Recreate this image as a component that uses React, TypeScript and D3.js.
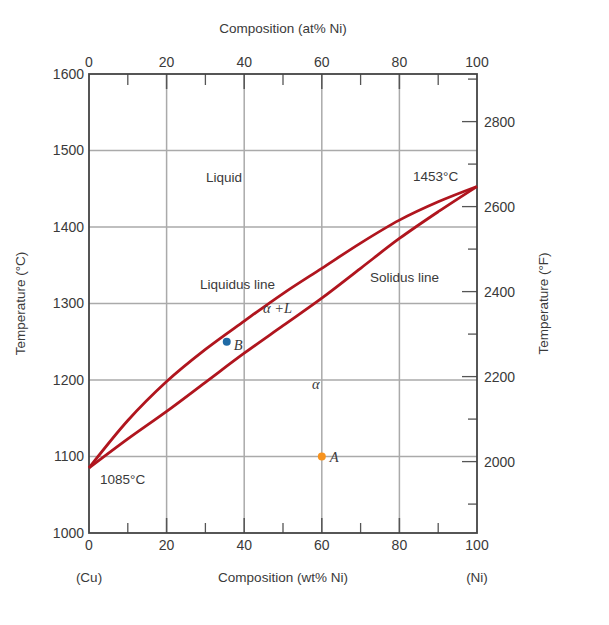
import React from "react";
import * as d3 from "d3";

const compositionPct = [0, 10, 20, 30, 40, 50, 60, 70, 80, 90, 100];
const liquidusC = [1085, 1147, 1198, 1240, 1277, 1313, 1346, 1379, 1409, 1433, 1453];
const solidusC = [1085, 1123, 1159, 1197, 1235, 1271, 1307, 1346, 1385, 1420, 1453];
const xMajorTicks = [0, 20, 40, 60, 80, 100];
const xMinorTicks = [10, 30, 50, 70, 90];
const yTicksC = [1000, 1100, 1200, 1300, 1400, 1500, 1600];
const yTicksF = [1900, 2000, 2100, 2200, 2300, 2400, 2500, 2600, 2700, 2800, 2900];
const pointA = { x: 60, t: 1100, label: "A" };
const pointB = { x: 35.5, t: 1250, label: "B" };

const W = 609, H = 625;
const L = 89, R = 477, T = 74, B = 533;
const FONT = "'Liberation Sans', Arial, sans-serif";
const SERIF = "'Liberation Serif', 'DejaVu Serif', serif";
const TXT = "#3a3a3a";

export default function App() {
  const x = d3.scaleLinear().domain([0, 100]).range([L, R]);
  const y = d3.scaleLinear().domain([1000, 1600]).range([B, T]);
  const fToC = (f: number) => ((f - 32) * 5) / 9;
  const line = d3
    .line<[number, number]>()
    .x((d) => x(d[0]))
    .y((d) => y(d[1]))
    .curve(d3.curveMonotoneX);
  const liq = compositionPct.map((c, i) => [c, liquidusC[i]] as [number, number]);
  const sol = compositionPct.map((c, i) => [c, solidusC[i]] as [number, number]);

  return (
    <svg
      width={W}
      height={H}
      style={{ position: "absolute", left: 0, top: 0, background: "#fff" }}
      fontFamily={FONT}
    >
      {/* grid */}
      {xMajorTicks.slice(1, -1).map((v) => (
        <line key={"gx" + v} x1={x(v)} x2={x(v)} y1={T} y2={B} stroke="#aaa" strokeWidth={1.5} />
      ))}
      {yTicksC.slice(1, -1).map((v) => (
        <line key={"gy" + v} x1={L} x2={R} y1={y(v)} y2={y(v)} stroke="#aaa" strokeWidth={1.5} />
      ))}
      {/* ticks top/bottom */}
      {xMajorTicks.slice(1, -1).map((v) => (
        <g key={"tm" + v}>
          <line x1={x(v)} x2={x(v)} y1={T} y2={T + 15} stroke="#555" strokeWidth={1.5} />
          <line x1={x(v)} x2={x(v)} y1={B} y2={B - 15} stroke="#555" strokeWidth={1.5} />
        </g>
      ))}
      {xMinorTicks.map((v) => (
        <g key={"tn" + v}>
          <line x1={x(v)} x2={x(v)} y1={T} y2={T + 11} stroke="#555" strokeWidth={1.3} />
          <line x1={x(v)} x2={x(v)} y1={B} y2={B - 10} stroke="#555" strokeWidth={1.3} />
        </g>
      ))}
      {/* right ticks */}
      {yTicksF.map((f) => {
        const major = f % 200 === 0;
        const yy = y(fToC(f));
        return (
          <g key={"rf" + f}>
            <line x1={R} x2={R - (major ? 15 : 9)} y1={yy} y2={yy} stroke="#555" strokeWidth={1.3} />
            {major && (
              <text x={R + 7} y={yy} dy="0.35em" fontSize={14} fill={TXT}>
                {f}
              </text>
            )}
          </g>
        );
      })}
      {/* frame */}
      <rect x={L} y={T} width={R - L} height={B - T} fill="none" stroke="#444" strokeWidth={1.8} />
      {/* curves */}
      <path d={line(liq) || ""} fill="none" stroke="#b0151e" strokeWidth={2.8} />
      <path d={line(sol) || ""} fill="none" stroke="#b0151e" strokeWidth={2.8} />
      {/* tick labels */}
      {xMajorTicks.map((v) => (
        <g key={"xl" + v}>
          <text x={x(v)} y={T - 7} textAnchor="middle" fontSize={14} fill={TXT}>
            {v}
          </text>
          <text x={x(v)} y={B + 17} textAnchor="middle" fontSize={14} fill={TXT}>
            {v}
          </text>
        </g>
      ))}
      {yTicksC.map((v) => (
        <text key={"yl" + v} x={L - 5} y={y(v)} dy="0.35em" textAnchor="end" fontSize={14} fill={TXT}>
          {v}
        </text>
      ))}
      {/* axis titles */}
      <text x={(L + R) / 2} y={33} textAnchor="middle" fontSize={13.5} fill={TXT}>
        Composition (at% Ni)
      </text>
      <text x={(L + R) / 2} y={582} textAnchor="middle" fontSize={13.5} fill={TXT}>
        Composition (wt% Ni)
      </text>
      <text x={x(0)} y={582} textAnchor="middle" fontSize={13.5} fill={TXT}>
        (Cu)
      </text>
      <text x={x(100)} y={582} textAnchor="middle" fontSize={13.5} fill={TXT}>
        (Ni)
      </text>
      <text
        transform={`translate(25,${(T + B) / 2}) rotate(-90)`}
        textAnchor="middle"
        fontSize={13.5}
        fill={TXT}
      >
        Temperature (°C)
      </text>
      <text
        transform={`translate(548,${(T + B) / 2}) rotate(-90)`}
        textAnchor="middle"
        fontSize={13.5}
        fill={TXT}
      >
        Temperature (°F)
      </text>
      {/* annotations */}
      <text x={242} y={182} textAnchor="end" fontSize={13.5} fill={TXT}>
        Liquid
      </text>
      <text x={200} y={289} fontSize={13.5} fill={TXT}>
        Liquidus line
      </text>
      <text x={370} y={282} fontSize={13.5} fill={TXT}>
        Solidus line
      </text>
      <text x={413} y={181} fontSize={13.5} fill={TXT}>
        1453°C
      </text>
      <text x={100} y={484} fontSize={13.5} fill={TXT}>
        1085°C
      </text>
      <text x={263} y={313} fontSize={14.5} fill={TXT} fontFamily={SERIF} fontStyle="italic">
        α +L
      </text>
      <text x={312} y={389} fontSize={14.5} fill={TXT} fontFamily={SERIF} fontStyle="italic">
        α
      </text>
      {/* points */}
      <circle cx={x(pointB.x)} cy={y(pointB.t)} r={4} fill="#1f6aa5" />
      <text x={x(pointB.x) + 7} y={y(pointB.t) + 8} fontSize={14.5} fill={TXT} fontFamily={SERIF} fontStyle="italic">
        {pointB.label}
      </text>
      <circle cx={x(pointA.x)} cy={y(pointA.t)} r={4} fill="#f7931e" />
      <text x={x(pointA.x) + 8} y={y(pointA.t) + 5} fontSize={14.5} fill={TXT} fontFamily={SERIF} fontStyle="italic">
        {pointA.label}
      </text>
    </svg>
  );
}
